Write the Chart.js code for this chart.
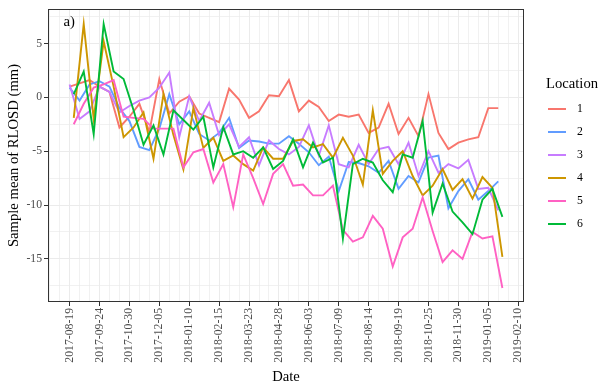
<!DOCTYPE html>
<html>
<head>
<meta charset="utf-8">
<script src="https://cdn.jsdelivr.net/npm/chart.js@4"></script>
<style>
  html, body { margin: 0; padding: 0; background: #ffffff; }
  #wrap { width: 612px; height: 391px; }
</style>
</head>
<body>
<div id="wrap"><canvas id="myChart" width="612" height="391"></canvas></div>
<script>
// acquisition dates, locations 1-3
const datesA = [
    '2017-08-19', '2017-08-31', '2017-09-12', '2017-09-24', '2017-10-06', '2017-10-18', '2017-10-30', '2017-11-11',
    '2017-11-23', '2017-12-05', '2017-12-17', '2017-12-29', '2018-01-10', '2018-01-22', '2018-02-03', '2018-02-15',
    '2018-02-27', '2018-03-11', '2018-03-23', '2018-04-04', '2018-04-16', '2018-04-28', '2018-05-10', '2018-05-22',
    '2018-06-03', '2018-06-15', '2018-06-27', '2018-07-09', '2018-07-21', '2018-08-02', '2018-08-14', '2018-08-26',
    '2018-09-07', '2018-09-19', '2018-10-01', '2018-10-13', '2018-10-25', '2018-11-06', '2018-11-18', '2018-11-30',
    '2018-12-12', '2018-12-24', '2019-01-05', '2019-01-17'
];
// acquisition dates, locations 4-6
const datesB = [
    '2017-08-24', '2017-09-05', '2017-09-17', '2017-09-29', '2017-10-11', '2017-10-23', '2017-11-04', '2017-11-16',
    '2017-11-28', '2017-12-10', '2017-12-22', '2018-01-03', '2018-01-15', '2018-01-27', '2018-02-08', '2018-02-20',
    '2018-03-04', '2018-03-16', '2018-03-28', '2018-04-09', '2018-04-21', '2018-05-03', '2018-05-15', '2018-05-27',
    '2018-06-08', '2018-06-20', '2018-07-02', '2018-07-14', '2018-07-26', '2018-08-07', '2018-08-19', '2018-08-31',
    '2018-09-12', '2018-09-24', '2018-10-06', '2018-10-18', '2018-10-30', '2018-11-11', '2018-11-23', '2018-12-05',
    '2018-12-17', '2018-12-29', '2019-01-10', '2019-01-22'
];

const loc1 = [1.0, 1.3, 1.6, 1.0, 0.5, -2.8, -1.8, -0.6, -3.2, 1.7, -1.5, -0.4, 0.1, -1.5, -1.9, -2.3,
    0.8, -0.2, -1.9, -1.3, 0.2, 0.1, 1.6, -1.3, -0.3, -0.9, -2.2, -1.6, -1.8, -1.6, -3.3, -2.8,
    -0.6, -3.4, -1.9, -3.6, 0.3, -3.3, -4.8, -4.2, -3.9, -3.7, -1.0, -1.0];
const loc2 = [0.9, -0.3, 1.2, 1.5, 1.0, -1.0, -2.2, -4.6, -4.9, -2.9, 0.3, -2.5, -1.3, -3.4, -4.0, -3.3,
    -1.9, -4.7, -4.0, -4.1, -4.3, -4.3, -3.6, -4.3, -5.1, -6.3, -5.5, -8.7, -6.0, -6.1, -6.4, -7.0,
    -5.9, -8.5, -7.3, -7.9, -5.6, -5.4, -10.3, -8.7, -7.6, -9.5, -8.7, -7.8];
const loc3 = [1.2, -2.0, -1.3, 1.0, 0.5, -1.4, -0.8, -0.3, 0.0, 0.9, 2.3, -3.7, 0.1, -2.2, -0.5, -3.5,
    -2.5, -4.6, -3.7, -6.3, -4.0, -4.8, -5.3, -4.6, -2.6, -5.4, -2.6, -6.2, -6.5, -4.4, -6.2, -4.8,
    -4.6, -6.2, -4.2, -7.3, -5.0, -7.0, -6.2, -6.6, -5.8, -8.5, -8.4, -10.5];
const loc4 = [-1.9, 6.8, -2.0, 5.2, 1.0, -3.7, -2.8, -1.4, -5.7, 0.3, -3.5, -6.7, -1.0, -4.7, -3.75, -5.9,
    -5.4, -6.2, -6.8, -4.65, -5.7, -5.7, -4.05, -3.9, -4.65, -4.35, -5.6, -3.75, -5.4, -8.1, -1.2, -7.1,
    -5.9, -5.0, -7.3, -9.1, -8.2, -6.65, -8.6, -7.6, -9.4, -7.4, -8.4, -14.8];
const loc5 = [-2.5, -0.6, 0.9, 1.2, 1.6, -1.8, -1.9, -2.0, -2.9, -2.9, -2.9, -6.5, -5.1, -4.8, -7.9, -6.2,
    -10.2, -5.3, -7.5, -9.9, -7.1, -6.2, -8.2, -8.1, -9.1, -9.1, -8.2, -12.3, -13.4, -13.0, -11.0, -12.2,
    -15.7, -13.0, -12.2, -9.3, -12.4, -15.3, -14.2, -15.0, -12.5, -13.1, -12.9, -17.7];
const loc6 = [0.3, 2.4, -3.4, 6.8, 2.4, 1.7, -1.2, -4.4, -2.6, -5.3, -1.2, -2.1, -3.0, -1.8, -6.5, -2.75,
    -5.3, -5.0, -5.6, -4.65, -6.65, -5.9, -3.9, -6.5, -4.2, -6.05, -5.6, -13.1, -6.2, -5.7, -6.05, -7.7,
    -8.8, -5.3, -5.6, -2.2, -10.7, -8.0, -10.6, -11.6, -12.7, -9.5, -8.5, -11.1];

const locations = ['1', '2', '3', '4', '5', '6'];
const lineColors = ['#F8766D', '#619CFF', '#C77CFF', '#CD9600', '#FF61C3', '#00BA38'];
const xTickDates = ['2017-08-19', '2017-09-24', '2017-10-30', '2017-12-05', '2018-01-10', '2018-02-15',
    '2018-03-23', '2018-04-28', '2018-06-03', '2018-07-09', '2018-08-14', '2018-09-19', '2018-10-25',
    '2018-11-30', '2019-01-05', '2019-02-10'];
const yTickLabels = [-15, -10, -5, 0, 5];

const origin = Date.UTC(2017, 7, 19);
function toDay(s) {
    const p = s.split('-');
    return Math.round((Date.UTC(+p[0], +p[1] - 1, +p[2]) - origin) / 86400000);
}
function dayLabel(d) {
    return new Date(origin + d * 86400000).toISOString().slice(0, 10);
}
const majorDays = xTickDates.map(toDay);

function series(dates, vals) {
    return vals.map((v, i) => ({x: toDay(dates[i]), y: v}));
}
const allVals = [loc1, loc2, loc3, loc4, loc5, loc6];

const serif = '"Liberation Serif", "Times New Roman", serif';

const frame = {
    id: 'frame',
    afterDatasetsDraw(chart) {
        const c = chart.ctx, a = chart.chartArea;
        c.save();
        c.strokeStyle = '#333333';
        c.lineWidth = 1;
        c.strokeRect(Math.round(a.left) + 0.5, Math.round(a.top) + 0.5,
            Math.round(a.right - a.left) - 1, Math.round(a.bottom - a.top) - 1);
        c.fillStyle = '#000';
        c.font = '14.67px ' + serif;
        c.textAlign = 'left';
        c.textBaseline = 'middle';
        c.fillText('a)', 63.5, 22);
        c.restore();
    },
    afterDraw(chart) {
        const c = chart.ctx;
        c.save();
        c.textAlign = 'left';
        c.textBaseline = 'middle';
        c.fillStyle = '#000';
        c.font = '14.67px ' + serif;
        c.fillText('Location', 546, 84);
        chart.data.datasets.forEach((ds, i) => {
            const y = 109 + i * 23;
            c.strokeStyle = ds.borderColor;
            c.lineWidth = 2;
            c.beginPath();
            c.moveTo(548, y);
            c.lineTo(566, y);
            c.stroke();
            c.font = '11.73px ' + serif;
            c.fillText(ds.label, 577, y);
        });
        c.restore();
    }
};

const ctx = document.getElementById('myChart').getContext('2d');
const myChart = new Chart(ctx, {
    type: 'line',
    data: {
        datasets: locations.map((name, i) => ({
            label: name,
            data: series(i < 3 ? datesA : datesB, allVals[i]),
            borderColor: lineColors[i],
            backgroundColor: lineColors[i],
            borderWidth: 1.9,
            pointRadius: 0,
            tension: 0,
            fill: false,
            order: 6 - i
        }))
    },
    options: {
        responsive: false,
        animation: false,
        devicePixelRatio: 1,
        layout: {padding: {left: 0, right: 88, top: 7, bottom: 0}},
        plugins: {legend: {display: false}, tooltip: {enabled: false}},
        scales: {
            x: {
                type: 'linear',
                min: -26,
                max: 547,
                afterFit: (s) => { s.height = 89; },
                border: {display: false},
                grid: {
                    color: '#EBEBEB',
                    lineWidth: (c) => majorDays.includes(c.tick.value) ? 1 : 0.7,
                    tickColor: (c) => majorDays.includes(c.tick.value) ? '#333333' : 'rgba(0,0,0,0)',
                    tickLength: 4
                },
                ticks: {
                    stepSize: 12,
                    includeBounds: false,
                    autoSkip: false,
                    maxRotation: 90,
                    minRotation: 90,
                    padding: 2,
                    color: '#4D4D4D',
                    font: {family: serif, size: 11.73},
                    callback: (v) => majorDays.includes(v) ? dayLabel(v) : ''
                },
                title: {
                    display: true,
                    text: 'Date',
                    color: '#000',
                    font: {family: serif, size: 14.67},
                    padding: {top: 0, bottom: 4.7}
                }
            },
            y: {
                min: -19.0,
                max: 8.2,
                afterFit: (s) => { s.width = 48; },
                border: {display: false},
                grid: {
                    color: '#EBEBEB',
                    lineWidth: (c) => yTickLabels.includes(c.tick.value) ? 1 : 0.7,
                    tickColor: (c) => yTickLabels.includes(c.tick.value) ? '#333333' : 'rgba(0,0,0,0)',
                    tickLength: 4
                },
                ticks: {
                    stepSize: 2.5,
                    includeBounds: false,
                    autoSkip: false,
                    padding: 2,
                    color: '#4D4D4D',
                    font: {family: serif, size: 11.73},
                    callback: (v) => yTickLabels.includes(v) ? String(v) : ''
                },
                title: {
                    display: true,
                    text: 'Sample mean of RLOSD (mm)',
                    color: '#000',
                    font: {family: serif, size: 14.67},
                    padding: {top: 5.2, bottom: 0}
                }
            }
        }
    },
    plugins: [frame]
});
</script>
</body>
</html>
